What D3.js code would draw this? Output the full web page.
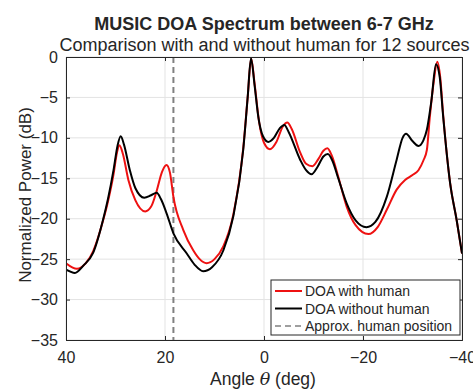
<!DOCTYPE html>
<html><head><meta charset="utf-8">
<script src="https://cdn.jsdelivr.net/npm/d3@7"></script>
<style>body{margin:0;background:#fff}svg{display:block}text{font-family:"Liberation Sans",Arial,sans-serif;fill:#262626}</style>
</head><body><svg id="c" width="473" height="392"></svg>
<script>
const xTicks = [40, 20, 0, -20, -40];
const yTicks = [0, -5, -10, -15, -20, -25, -30, -35];
const humanAngle = 18.3;

const angNo = [40,38.2,36.5,34.5,32.5,31.5,30.4,29.6,28.95,28.3,27.1,26,24.2,22.8,21.7,20.8,19.7,18.3,15.6,14,12.3,10.5,8.2,6.2,4.2,3.3,2.63,1.9,1.15,0.2,-0.87,-2,-3.2,-4.1,-5,-7.3,-8.5,-9.6,-10.8,-12,-12.9,-13.8,-15,-16.7,-18.5,-20.7,-22.5,-24.8,-26.8,-28,-28.7,-30,-31.2,-32.2,-32.9,-33.8,-34.75,-35.5,-36.2,-37.6,-38.9,-40];
const dbNo  = [-26.3,-26.7,-25.8,-24.2,-20.1,-17.5,-14.0,-11,-9.8,-10.8,-14.0,-16.2,-17.4,-17.1,-16.8,-17.6,-19.3,-21.8,-24.3,-25.7,-26.5,-26.0,-23.9,-19.7,-11.5,-5,-0.15,-3.5,-7.4,-9.8,-10.5,-10.0,-8.8,-8.4,-9.3,-12.7,-14.0,-14.5,-13.6,-12.3,-12.0,-12.8,-15.0,-18.1,-20.2,-21.05,-20.4,-17.3,-12.7,-10.0,-9.5,-10.4,-11.0,-10.3,-9.0,-5.5,-0.9,-2.5,-7.4,-15.6,-20.1,-24.3];

const angHum = [40,37.8,36,34.5,32.5,31.5,30.4,29.7,29.2,28.5,27.4,26,24,22.8,21.7,20.6,19.7,19,18.3,16.3,14.3,13,11.6,10,8.2,6.2,4.2,3.3,2.6,1.9,1.0,0,-1.2,-2.5,-3.8,-4.7,-5.6,-7.3,-8.5,-9.8,-11,-12,-12.8,-13.7,-15,-16.7,-18.5,-21.1,-23,-24.8,-26.8,-28.5,-30,-31.2,-32.2,-32.9,-33.5,-34.3,-35,-35.6,-36.2,-37.6,-38.9,-40];
const dbHum  = [-25.5,-26.2,-25.5,-24.0,-20.2,-17.8,-14.5,-11.8,-10.9,-12,-15.2,-17.7,-19.1,-18.5,-16.6,-14.2,-13.35,-14.3,-17.3,-21.4,-23.9,-25.0,-25.5,-25.0,-23.4,-19.5,-11.3,-5,-0.2,-3.3,-8.0,-10.6,-11.4,-10.5,-8.6,-8.1,-8.9,-11.8,-13.2,-13.5,-12.6,-11.6,-11.3,-12.2,-14.8,-18.5,-20.8,-21.9,-21.0,-18.9,-16.4,-15.2,-14.6,-14.0,-12.8,-11.5,-7.4,-3,-0.6,-2.5,-7.2,-15.6,-20.1,-24.3];

const legendLabels = ["DOA with human", "DOA without human", "Approx. human position"];

const L = 66, R = 462, T = 57, B = 340;
const RED = "#ee1111";
const svg = d3.select("#c");
const x = d3.scaleLinear().domain([40, -40]).range([L, R]);
const y = d3.scaleLinear().domain([-35, 0]).range([B, T]);

// grid
const g = svg.append("g");
g.selectAll(".gx").data(xTicks).join("line")
  .attr("x1", d => x(d)).attr("x2", d => x(d)).attr("y1", T).attr("y2", B)
  .attr("stroke", "#e3e3e3").attr("stroke-width", 1);
g.selectAll(".gy").data(yTicks).join("line")
  .attr("y1", d => y(d)).attr("y2", d => y(d)).attr("x1", L).attr("x2", R)
  .attr("stroke", "#e3e3e3").attr("stroke-width", 1);

// human position dashed line
svg.append("line").attr("x1", x(humanAngle)).attr("x2", x(humanAngle)).attr("y1", T).attr("y2", B)
  .attr("stroke", "#808080").attr("stroke-width", 2).attr("stroke-dasharray", "6,4");

svg.append("clipPath").attr("id", "pc").append("rect")
  .attr("x", L).attr("y", T - 2).attr("width", R - L).attr("height", B - T + 2);

const line = d3.line().x(d => x(d[0])).y(d => y(d[1])).curve(d3.curveMonotoneX);
const dHum = angHum.map((a, i) => [a, dbHum[i]]);
const dNo = angNo.map((a, i) => [a, dbNo[i]]);
svg.append("path").attr("d", line(dHum)).attr("fill", "none").attr("stroke", RED).attr("stroke-width", 2).attr("clip-path", "url(#pc)");
svg.append("path").attr("d", line(dNo)).attr("fill", "none").attr("stroke", "#000").attr("stroke-width", 2).attr("clip-path", "url(#pc)");

// axes
const ax = svg.append("g").attr("transform", `translate(0,${B})`)
  .call(d3.axisBottom(x).tickValues(xTicks).tickSize(-4).tickPadding(12).tickFormat(d3.format("d")));
const axT = svg.append("g").attr("transform", `translate(0,${T})`)
  .call(d3.axisTop(x).tickValues(xTicks).tickSize(-4).tickFormat(""));
const ay = svg.append("g").attr("transform", `translate(${L},0)`)
  .call(d3.axisLeft(y).tickValues(yTicks).tickSize(-4).tickPadding(8).tickFormat(d3.format("d")));
const ayR = svg.append("g").attr("transform", `translate(${R},0)`)
  .call(d3.axisRight(y).tickValues(yTicks).tickSize(-4).tickFormat(""));
[ax, axT, ay, ayR].forEach(a => {
  a.selectAll("path").attr("stroke", "#262626").attr("stroke-width", 1);
  a.selectAll("line").attr("stroke", "#262626");
  a.selectAll("text").attr("font-size", 16).attr("font-family", "Liberation Sans, Arial, sans-serif").attr("fill", "#262626");
});

// titles
svg.append("text").attr("x", 264).attr("y", 30).attr("text-anchor", "middle")
  .attr("font-size", 18).attr("font-weight", "bold").attr("fill", "#000").text("MUSIC DOA Spectrum between 6-7 GHz");
svg.append("text").attr("x", 264.5).attr("y", 51).attr("text-anchor", "middle")
  .attr("font-size", 18).attr("fill", "#000").text("Comparison with and without human for 12 sources");

// axis labels
const xl = svg.append("text").attr("x", 263).attr("y", 385).attr("text-anchor", "middle").attr("font-size", 17.5);
xl.append("tspan").text("Angle ");
xl.append("tspan").attr("font-style", "italic").attr("font-family", "DejaVu Serif, serif").text("θ");
xl.append("tspan").text(" (deg)");
svg.append("text").attr("transform", "translate(31,195) rotate(-90)").attr("text-anchor", "middle")
  .attr("font-size", 17).text("Normalized Power (dB)");

// legend
const lg = svg.append("g");
lg.append("rect").attr("x", 271).attr("y", 280).attr("width", 189).attr("height", 55)
  .attr("fill", "#fff").attr("stroke", "#262626").attr("stroke-width", 1);
const styles = [
  {stroke: RED, dash: null, w: 2},
  {stroke: "#000", dash: null, w: 2},
  {stroke: "#808080", dash: "6,4", w: 1.5}
];
legendLabels.forEach((lab, i) => {
  const yy = 291 + i * 17.5;
  lg.append("line").attr("x1", 275).attr("x2", 302).attr("y1", yy).attr("y2", yy)
    .attr("stroke", styles[i].stroke).attr("stroke-width", styles[i].w)
    .attr("stroke-dasharray", styles[i].dash);
  lg.append("text").attr("x", 305).attr("y", yy + 5).attr("font-size", 14).attr("fill", "#000").text(lab);
});
</script></body></html>
